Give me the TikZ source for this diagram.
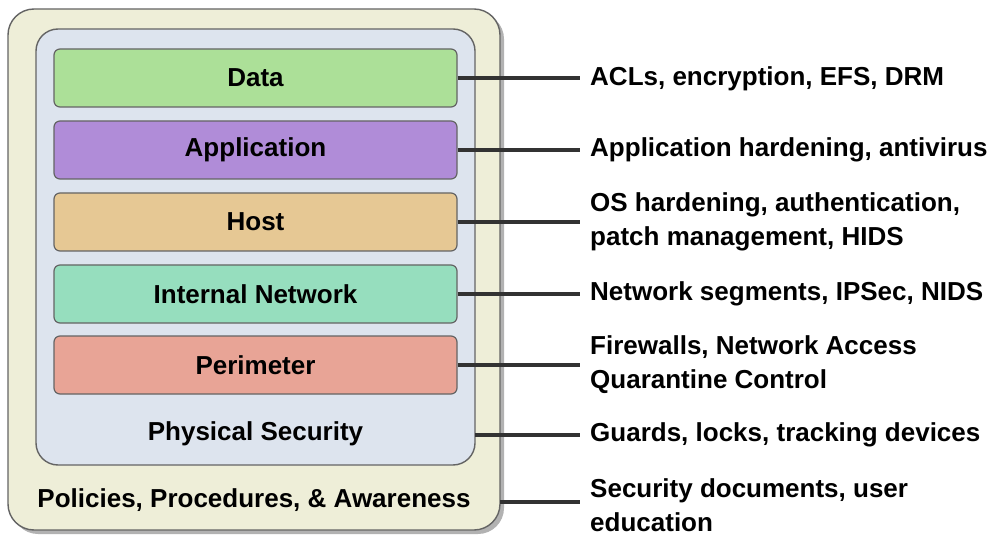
\documentclass[tikz,border=0pt]{standalone}
\usepackage{fontspec}
\setmainfont{Liberation Sans}
\definecolor{outerfill}{RGB}{238,238,216}
\definecolor{innerfill}{RGB}{221,228,238}
\definecolor{datafill}{RGB}{172,224,152}
\definecolor{appfill}{RGB}{176,140,216}
\definecolor{hostfill}{RGB}{230,200,148}
\definecolor{netfill}{RGB}{150,222,190}
\definecolor{perifill}{RGB}{232,164,150}
\definecolor{edgegray}{RGB}{100,100,100}
\definecolor{linkgray}{RGB}{50,50,50}
\begin{document}
\begin{tikzpicture}[x=1pt,y=-1pt,
  every node/.style={font=\fontsize{26}{34}\selectfont\bfseries, text=black},
  layer/.style={draw=edgegray, line width=1.2pt, rounded corners=6pt, minimum width=403pt, minimum height=58pt, inner sep=0pt},
  shell/.style={draw=edgegray, line width=1.4pt, inner sep=0pt},
  desc/.style={anchor=west, align=left, inner sep=0pt},
  link/.style={draw=linkgray, line width=4pt, shorten >=10pt}]
\useasboundingbox (0,0) rectangle (998,537);
% shadows
\fill[black!30, rounded corners=26pt] (12,13) rectangle (504,534);
\fill[black!25, rounded corners=22pt] (39,32) rectangle (478,468);
% outer and inner shells
\node[shell, fill=outerfill, rounded corners=26pt, minimum width=492pt, minimum height=521pt] (outer) at (254,269.5) {};
\node[shell, fill=innerfill, rounded corners=22pt, minimum width=439pt, minimum height=436pt] (inner) at (255.5,247) {};
% layers
\node[layer, fill=datafill] (data) at (255.5,78) {Data};
\node[layer, fill=appfill] (app) at (255.5,150) {Application};
\node[layer, fill=hostfill] (host) at (255.5,222) {Host};
\node[layer, fill=netfill] (net) at (255.5,294) {Internal Network};
\node[layer, fill=perifill] (peri) at (255.5,365) {Perimeter};
\node[inner sep=0pt] (phys) at (255.5,434) {Physical Security};
\node[inner sep=0pt] (pol) at (254,500) {Policies, Procedures, \& Awareness};
% descriptions
\node[desc] (ddata) at (590,79) {ACLs, encryption, EFS, DRM};
\node[desc] (dapp) at (590,150) {Application hardening, antivirus};
\node[desc] (dhost) at (590,222) {OS hardening, authentication,\\patch management, HIDS};
\node[desc] (dnet) at (590,294) {Network segments, IPSec, NIDS};
\node[desc] (dperi) at (590,365) {Firewalls, Network Access\\Quarantine Control};
\node[desc] (dphys) at (590,435) {Guards, locks, tracking devices};
\node[desc] (dpol) at (590,505) {Security documents, user\\education};
% connectors
\coordinate (physpt) at (475,435);
\coordinate (polpt) at (500,502);
\path[link] (data.east) -- (data.east -| ddata.west);
\path[link] (app.east) -- (app.east -| dapp.west);
\path[link] (host.east) -- (host.east -| dhost.west);
\path[link] (net.east) -- (net.east -| dnet.west);
\path[link] (peri.east) -- (peri.east -| dperi.west);
\path[link] (physpt) -- (physpt -| dphys.west);
\path[link] (polpt) -- (polpt -| dpol.west);
\end{tikzpicture}
\end{document}
